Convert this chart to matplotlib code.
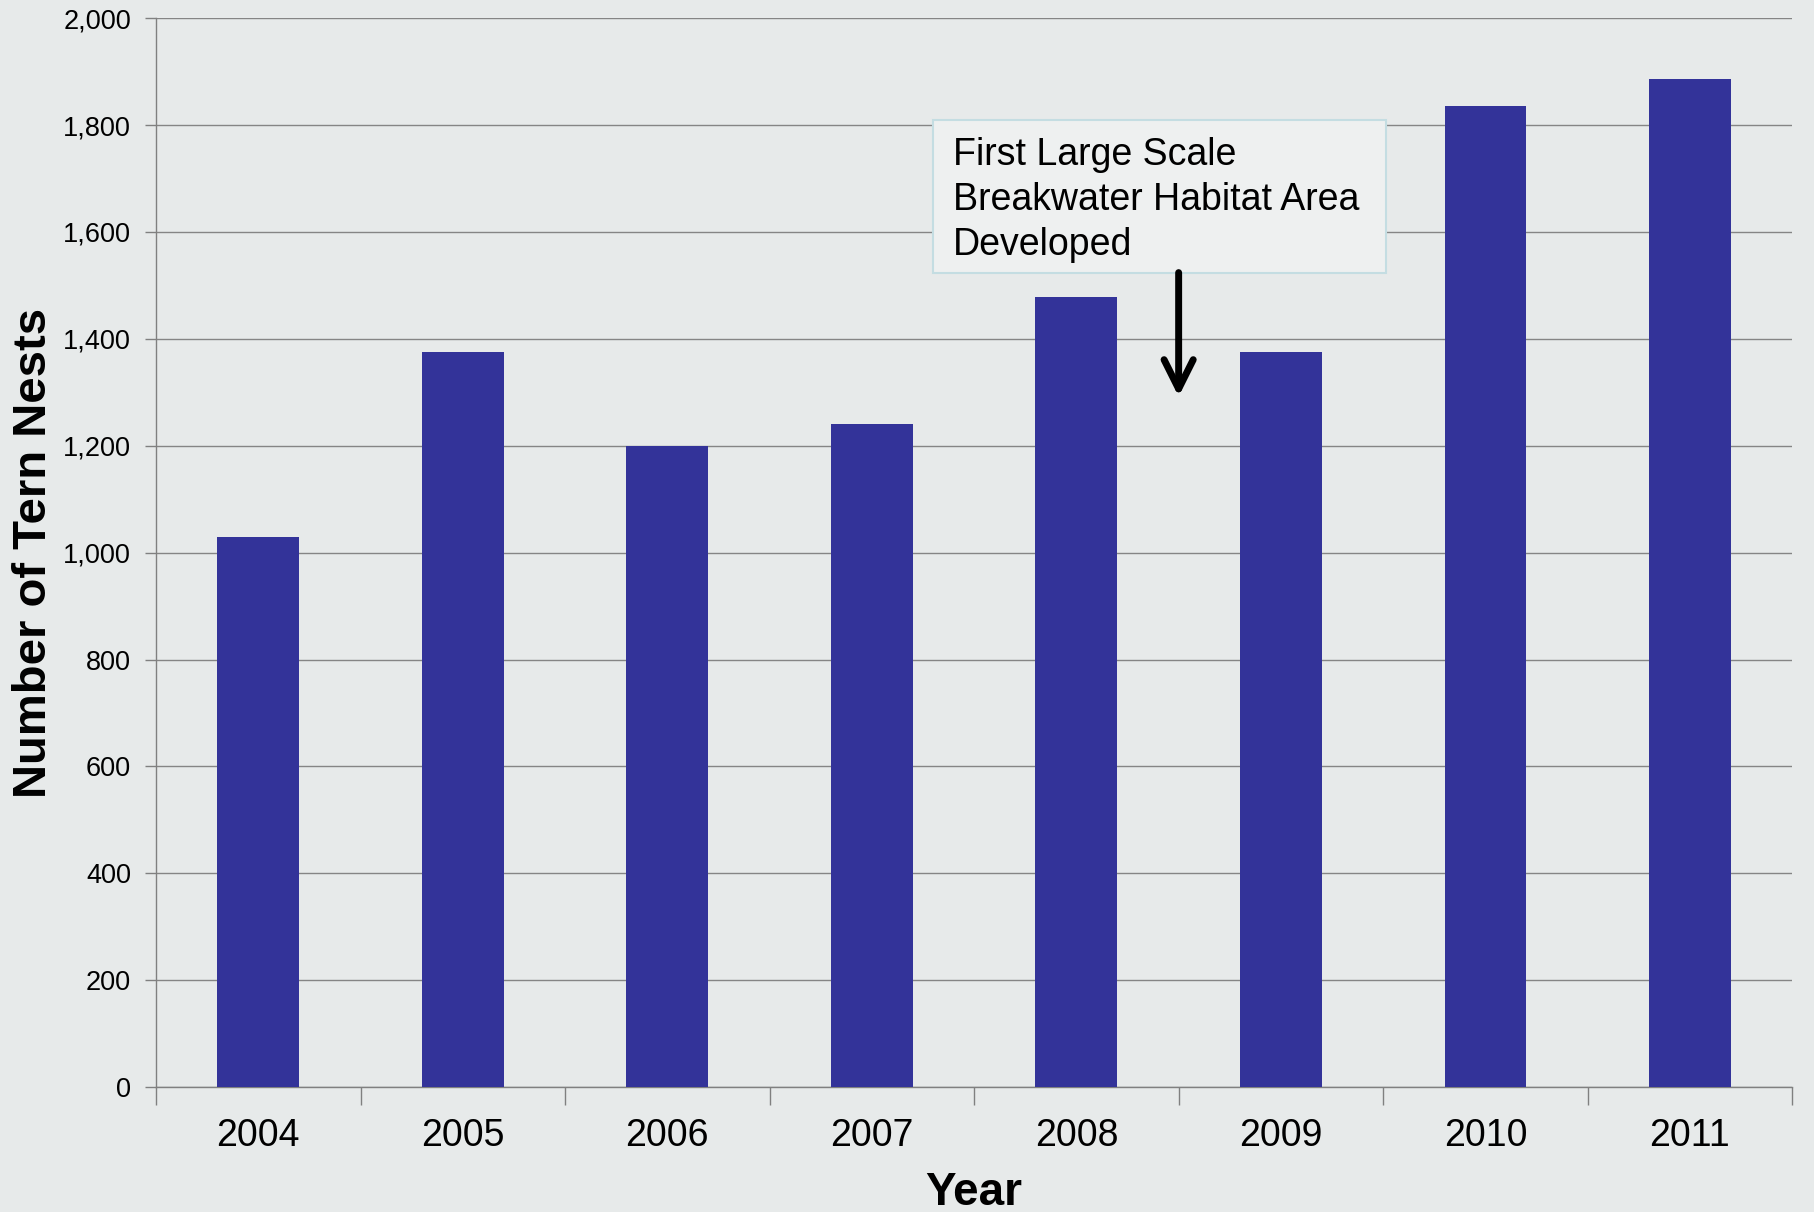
import matplotlib.pyplot as plt
from matplotlib.patches import Rectangle

# data
years = ['2004', '2005', '2006', '2007', '2008', '2009', '2010', '2011']
nests = [1030, 1375, 1200, 1240, 1478, 1375, 1835, 1887]
y_ticks = [0, 200, 400, 600, 800, 1000, 1200, 1400, 1600, 1800, 2000]
note = 'First Large Scale\nBreakwater Habitat Area\nDeveloped'

plt.rcParams['font.family'] = ['Liberation Sans', 'DejaVu Sans']

bg = '#e7eaea'
fig = plt.figure(figsize=(18.14, 12.12), dpi=100, facecolor=bg)
ax = fig.add_axes([0.086, 0.103, 0.902, 0.882])
ax.set_facecolor(bg)

x = list(range(len(years)))
ax.bar(x, nests, width=0.40, color='#333399', zorder=3)

ax.set_xlim(-0.5, len(years) - 0.5)
ax.set_ylim(0, 2000)
ax.set_yticks(y_ticks)
ax.set_yticklabels([f'{v:,}' for v in y_ticks], fontsize=19.5)
ax.yaxis.grid(True, color='#858585', lw=1.0, zorder=1)

# x ticks sit between the categories, labels at the centres
ax.set_xticks([i - 0.5 for i in range(len(years) + 1)])
ax.set_xticklabels([])
ax.set_xticks(x, minor=True)
ax.set_xticklabels(years, minor=True, fontsize=27)
ax.tick_params(axis='x', which='major', length=13, width=1, color='#808080', direction='out')
ax.tick_params(axis='x', which='minor', length=0, pad=22)
ax.tick_params(axis='y', length=8, width=1, color='#808080', pad=10)

for s in ['top', 'right']:
    ax.spines[s].set_visible(False)
for s in ['left', 'bottom']:
    ax.spines[s].set_color('#808080')
    ax.spines[s].set_linewidth(1.0)

fig.text(0.0185, 0.544, 'Number of Tern Nests', rotation=90, ha='center', va='center',
         fontsize=34, fontweight='bold')
fig.text(0.537, 0.006, 'Year', ha='center', va='baseline', fontsize=33, fontweight='bold')

# annotation box and arrow
ax.add_patch(Rectangle((3.298, 1524), 2.218, 286, facecolor='#eef0f0', edgecolor='#c4dde2',
                       lw=1.5, zorder=4))
ax.text(3.395, 1778, note, fontsize=27, va='top', ha='left', linespacing=1.33, zorder=5)
ax.annotate('', xy=(4.5, 1292), xytext=(4.5, 1524),
            arrowprops=dict(arrowstyle='->,head_length=1.0,head_width=0.5', lw=5,
                            color='black', mutation_scale=21, shrinkA=0, shrinkB=0),
            zorder=5)

fig.savefig('out.png', dpi=100, facecolor=bg)
